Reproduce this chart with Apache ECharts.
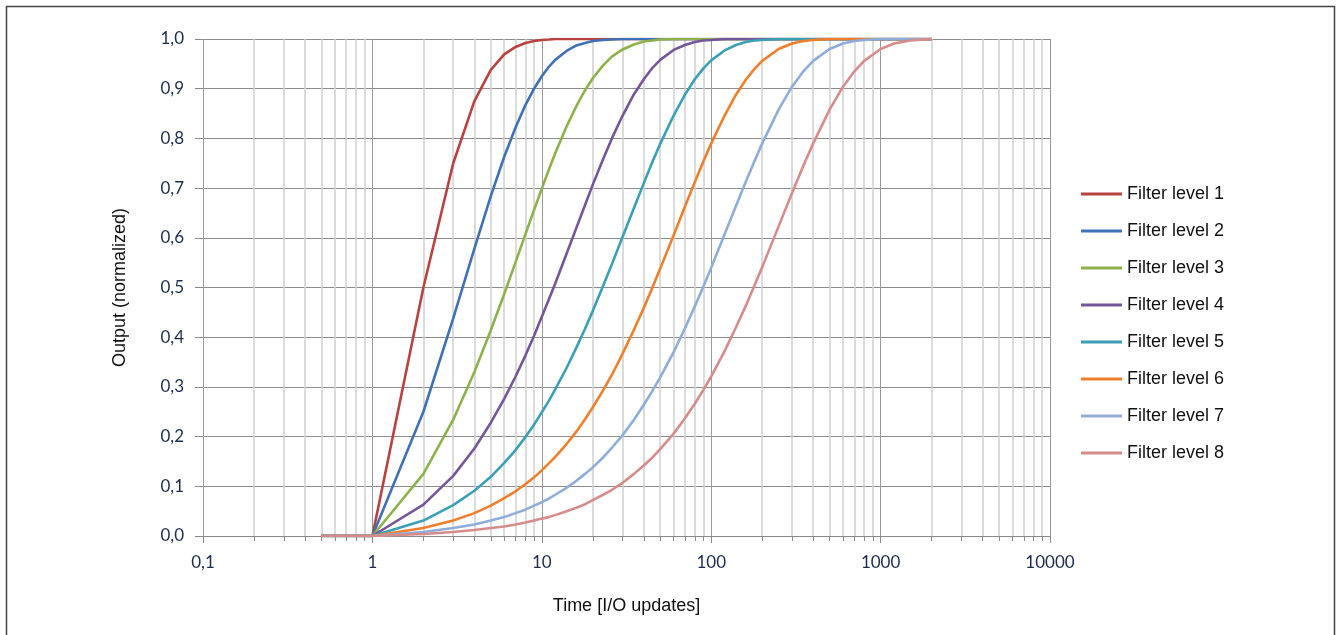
<!DOCTYPE html>
<html><head><meta charset="utf-8">
<script src="https://cdn.jsdelivr.net/npm/echarts@6/dist/echarts.min.js"></script>
<style>html,body{margin:0;padding:0;background:#fff}#c{width:1338px;height:635px}</style>
</head><body><div id="c"></div>
<script>
// Time [I/O updates]
const times = [0.5,1,2,3,4,5,6,7,8,9,10,11,12,14,16,18,20,23,26,30,35,40,45,50,60,70,80,90,100,120,140,160,180,200,250,300,350,400,500,600,700,800,1000,1200,1500,2000];
const seriesNames = ['Filter level 1','Filter level 2','Filter level 3','Filter level 4','Filter level 5','Filter level 6','Filter level 7','Filter level 8'];
const level1 = [0,0,0.5,0.75,0.875,0.938,0.969,0.984,0.992,0.996,0.998,0.999,1,1,1,1,1,1,1,1,1,1,1,1,1,1,1,1,1,1,1,1,1,1,1,1,1,1,1,1,1,1,1,1,1,1];
const level2 = [0,0,0.25,0.438,0.578,0.684,0.763,0.822,0.867,0.9,0.925,0.944,0.958,0.976,0.987,0.992,0.996,0.998,0.999,1,1,1,1,1,1,1,1,1,1,1,1,1,1,1,1,1,1,1,1,1,1,1,1,1,1,1];
const level3 = [0,0,0.125,0.234,0.33,0.414,0.487,0.551,0.607,0.656,0.699,0.737,0.77,0.824,0.865,0.897,0.921,0.947,0.965,0.979,0.989,0.995,0.997,0.999,1,1,1,1,1,1,1,1,1,1,1,1,1,1,1,1,1,1,1,1,1,1];
const level4 = [0,0,0.063,0.121,0.176,0.228,0.276,0.321,0.363,0.403,0.441,0.476,0.508,0.568,0.62,0.666,0.707,0.758,0.801,0.846,0.889,0.919,0.942,0.958,0.978,0.988,0.994,0.997,0.998,1,1,1,1,1,1,1,1,1,1,1,1,1,1,1,1,1];
const level5 = [0,0,0.031,0.062,0.091,0.119,0.147,0.173,0.199,0.224,0.249,0.272,0.295,0.338,0.379,0.417,0.453,0.503,0.548,0.602,0.66,0.71,0.753,0.789,0.846,0.888,0.919,0.941,0.957,0.977,0.988,0.994,0.997,0.998,1,1,1,1,1,1,1,1,1,1,1,1];
const level6 = [0,0,0.016,0.031,0.046,0.061,0.076,0.09,0.104,0.118,0.132,0.146,0.159,0.185,0.21,0.235,0.259,0.293,0.325,0.367,0.415,0.459,0.5,0.538,0.605,0.663,0.712,0.754,0.79,0.846,0.888,0.918,0.94,0.956,0.98,0.991,0.996,0.998,1,1,1,1,1,1,1,1];
const level7 = [0,0,0.008,0.016,0.023,0.031,0.038,0.046,0.053,0.061,0.068,0.075,0.083,0.097,0.111,0.125,0.138,0.158,0.178,0.203,0.234,0.264,0.292,0.319,0.37,0.418,0.462,0.502,0.54,0.607,0.664,0.713,0.754,0.79,0.858,0.904,0.935,0.956,0.98,0.991,0.996,0.998,1,1,1,1];
const level8 = [0,0,0.004,0.008,0.012,0.016,0.019,0.023,0.027,0.031,0.035,0.038,0.042,0.05,0.057,0.064,0.072,0.083,0.093,0.107,0.125,0.142,0.158,0.175,0.206,0.237,0.266,0.294,0.321,0.372,0.42,0.463,0.504,0.541,0.623,0.69,0.745,0.79,0.858,0.904,0.935,0.956,0.98,0.991,0.997,1];
const xTickLabels = ['0,1','1','10','100','1000','10000'];
const colors = ['#B8423F','#4070B6','#8DB24C','#74569B','#3B9FB7','#EE7F2D','#8FADD9','#D68C8B'];

const levels = [level1,level2,level3,level4,level5,level6,level7,level8];
const chart = echarts.init(document.getElementById('c'), null, {renderer:'canvas'});
const fmtX = v => { const n = Number(Number(v).toPrecision(6)); return n < 1 ? String(n).replace('.', ',') : String(n); };
chart.setOption({
  animation: false,
  backgroundColor: '#fff',
  color: colors,
  graphic: [{type:'rect', shape:{x:6.5,y:6.5,width:1328,height:640}, style:{fill:'none', stroke:'#444', lineWidth:1.5}, silent:true, z:-1}],
  grid: {left:203, right:288, top:39, bottom:99, containLabel:false},
  legend: {
    orient:'vertical', left:1076, top:179, itemWidth:41, itemHeight:3, itemGap:17,
    icon:'rect',
    textStyle:{fontFamily:'Liberation Sans, Arial, sans-serif', fontSize:18, color:'#111', lineHeight:20},
    data: seriesNames
  },
  xAxis: {
    type:'log', logBase:10, min:0.1, max:10000,
    name:'Time [I/O updates]', nameLocation:'middle', nameGap:61,
    nameTextStyle:{fontFamily:'Liberation Sans, Arial, sans-serif', fontSize:18, color:'#111'},
    axisLine:{show:true, lineStyle:{color:'#8a8a8a', width:1}},
    axisTick:{show:true, length:7, lineStyle:{color:'#8a8a8a'}},
    minorTick:{show:true, splitNumber:9, length:5, lineStyle:{color:'#8a8a8a'}},
    axisLabel:{formatter:fmtX, margin:18, fontFamily:'Lato, Open Sans, sans-serif', fontSize:17, color:'#1c2b4e'},
    splitLine:{show:true, lineStyle:{color:'#9a9a9a', width:1}},
    minorSplitLine:{show:true, lineStyle:{color:'#d0d0d0', width:1.5}}
  },
  yAxis: {
    type:'value', min:0, max:1, interval:0.1,
    name:'Output (normalized)', nameLocation:'middle', nameGap:74,
    nameTextStyle:{fontFamily:'Liberation Sans, Arial, sans-serif', fontSize:18, color:'#111'},
    axisLine:{show:false},
    axisTick:{show:true, length:8, lineStyle:{color:'#8a8a8a'}},
    axisLabel:{formatter: v => v.toFixed(1).replace('.', ','), margin:19, fontFamily:'Lato, Open Sans, sans-serif', fontSize:17, color:'#1c2b4e'},
    splitLine:{show:true, lineStyle:{color:'#8c8c8c', width:1}}
  },
  series: levels.map((arr, i) => ({
    name: seriesNames[i], type:'line', showSymbol:false, symbol:'none',
    lineStyle:{width:2.6, color:colors[i]}, itemStyle:{color:colors[i]},
    data: times.map((t, j) => [t, arr[j]])
  }))
});
</script></body></html>
